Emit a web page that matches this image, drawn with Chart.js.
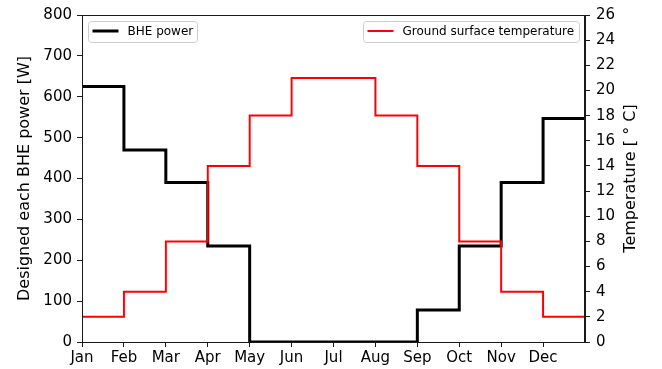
<!DOCTYPE html>
<html>
<head>
<meta charset="utf-8">
<script src="https://cdn.jsdelivr.net/npm/chart.js@4.4.1/dist/chart.umd.min.js"></script>
<style>
  html, body { margin: 0; padding: 0; background: #fff; }
  #wrap { width: 662px; height: 369px; position: relative; }
</style>
</head>
<body>
<div id="wrap"><canvas id="c" width="662" height="369"></canvas></div>
<script>
// Monthly design profile of a borehole heat exchanger
const months = ['Jan', 'Feb', 'Mar', 'Apr', 'May', 'Jun', 'Jul', 'Aug', 'Sep', 'Oct', 'Nov', 'Dec'];
const bhePower = [625, 470, 390, 235, 0, 0, 0, 0, 78, 235, 390, 547];      // W
const groundTemp = [2, 4, 8, 14, 18, 21, 21, 18, 14, 8, 4, 2];              // °C
const powerTicks = [0, 100, 200, 300, 400, 500, 600, 700, 800];
const tempTicks = [0, 2, 4, 6, 8, 10, 12, 14, 16, 18, 20, 22, 24, 26];

const FONT = 'DejaVu Sans';
const AXIS = '#1a1a1a';

// each month holds its value until the next month starts; the last one runs to year end
function stepPoints(values) {
  const pts = values.map((v, i) => ({ x: i, y: v }));
  pts.push({ x: values.length, y: values[values.length - 1] });
  return pts;
}

// frame, axis titles and the two legend boxes
const decor = {
  id: 'decor',
  afterDraw(chart) {
    const { ctx, chartArea: a } = chart;
    ctx.save();
    ctx.strokeStyle = AXIS;
    ctx.lineWidth = 1;
    ctx.strokeRect(Math.round(a.left) + 0.5, Math.round(a.top) + 0.5,
                   Math.round(a.right - a.left) - 1, Math.round(a.bottom - a.top));

    const midY = (a.top + a.bottom) / 2;
    ctx.fillStyle = '#000';
    ctx.font = '16px "' + FONT + '"';
    ctx.textAlign = 'center';
    ctx.textBaseline = 'middle';
    ctx.save();
    ctx.translate(25, midY);
    ctx.rotate(-Math.PI / 2);
    ctx.fillText('Designed each BHE power [W]', 0, 0);
    ctx.restore();
    ctx.save();
    ctx.translate(631, midY);
    ctx.rotate(-Math.PI / 2);
    ctx.fillText('Temperature [ \u00b0 C]', 0, 0);
    ctx.restore();

    function legendBox(x, y, w, h, color, lw, label) {
      const r = 3;
      ctx.beginPath();
      ctx.moveTo(x + r, y);
      ctx.arcTo(x + w, y, x + w, y + h, r);
      ctx.arcTo(x + w, y + h, x, y + h, r);
      ctx.arcTo(x, y + h, x, y, r);
      ctx.arcTo(x, y, x + w, y, r);
      ctx.closePath();
      ctx.fillStyle = 'rgba(255,255,255,0.8)';
      ctx.fill();
      ctx.strokeStyle = '#cccccc';
      ctx.lineWidth = 1;
      ctx.stroke();
      ctx.beginPath();
      ctx.moveTo(x + 4, y + h / 2 - 1);
      ctx.lineTo(x + 30, y + h / 2 - 1);
      ctx.strokeStyle = color;
      ctx.lineWidth = lw;
      ctx.stroke();
      ctx.fillStyle = '#000';
      ctx.font = '12px "' + FONT + '"';
      ctx.textAlign = 'left';
      ctx.textBaseline = 'middle';
      ctx.fillText(label, x + 39, y + h / 2);
    }
    legendBox(88.5, 21.5, 109, 21, '#000', 3, 'BHE power');
    legendBox(363.5, 21.5, 216, 21, '#ff0000', 2, 'Ground surface temperature');
    ctx.restore();
  }
};

const gridOpts = { display: true, drawOnChartArea: false, drawTicks: true, tickLength: 5, color: AXIS };

new Chart(document.getElementById('c'), {
  type: 'line',
  data: {
    datasets: [
      {
        label: 'BHE power',
        data: stepPoints(bhePower),
        yAxisID: 'yPower',
        borderColor: '#000',
        borderWidth: 3,
        stepped: 'before',
        pointRadius: 0,
        fill: false,
        order: 2
      },
      {
        label: 'Ground surface temperature',
        data: stepPoints(groundTemp),
        yAxisID: 'yTemp',
        borderColor: '#ff0000',
        borderWidth: 2,
        stepped: 'before',
        pointRadius: 0,
        fill: false,
        order: 1
      }
    ]
  },
  options: {
    responsive: false,
    animation: false,
    events: [],
    layout: { padding: { top: 15, left: 0, right: 0, bottom: 0 } },
    plugins: { legend: { display: false }, tooltip: { enabled: false } },
    scales: {
      x: {
        type: 'linear',
        min: 0,
        max: months.length,
        afterBuildTicks(s) { s.ticks = months.map((m, i) => ({ value: i })); },
        afterFit(s) { s.height = 27; },
        ticks: {
          autoSkip: false,
          maxRotation: 0,
          padding: 2,
          color: '#000',
          font: { family: FONT, size: 15 },
          callback: (v) => months[v] || ''
        },
        grid: gridOpts,
        border: { display: true, color: AXIS }
      },
      yPower: {
        type: 'linear',
        position: 'left',
        min: 0,
        max: 800,
        afterBuildTicks(s) { s.ticks = powerTicks.map(v => ({ value: v })); },
        afterFit(s) { s.width = 82; },
        ticks: { padding: 5, color: '#000', font: { family: FONT, size: 15 } },
        grid: gridOpts,
        border: { display: true, color: AXIS }
      },
      yTemp: {
        type: 'linear',
        position: 'right',
        min: 0,
        max: 26,
        afterBuildTicks(s) { s.ticks = tempTicks.map(v => ({ value: v })); },
        afterFit(s) { s.width = 77; },
        ticks: { padding: 6, color: '#000', font: { family: FONT, size: 15 } },
        grid: gridOpts,
        border: { display: true, color: AXIS }
      }
    }
  },
  plugins: [decor]
});
</script>
</body>
</html>
